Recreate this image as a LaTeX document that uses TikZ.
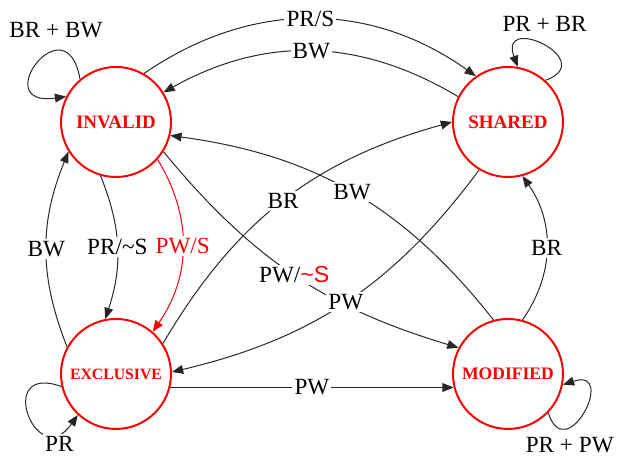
\documentclass[tikz,border=0pt]{standalone}
\usepackage{fontspec}
\setmainfont{Liberation Serif}
\setsansfont{Liberation Sans}
\usepackage{tikz}
\usetikzlibrary{arrows.meta, positioning}
\tikzset{
  stnode/.style={circle, draw=red, line width=1.4pt, minimum size=2.75cm, inner sep=0pt,
                 text=red, font=\bfseries\fontsize{13.5}{14}\selectfont},
  pipe/.style={-{Triangle[length=2.8mm, width=2.2mm]}, line width=0.7pt, draw=black!85},
  trlbl/.style={fill=white, inner sep=1.5pt, font=\fontsize{16.5}{18}\selectfont},
}

\begin{document}
\begin{tikzpicture}[node distance=7cm]
    \useasboundingbox (0,0) rectangle (15.525,-11.5);

    \node[stnode] (inv) at (2.9,-3.05) {INVALID};
    \node[stnode, right=of inv] (shd) {SHARED};
    \node[stnode, below=3.5cm of inv, font=\bfseries\fontsize{11.2}{12}\selectfont] (exc) {EXCLUSIVE};
    \node[stnode, right=of exc, font=\bfseries\fontsize{12.5}{13}\selectfont] (mod) {MODIFIED};

    % self loops
    \draw[pipe] (inv.130) .. controls +(100:2) and +(188:2) .. node[trlbl, above=7pt, pos=0.3] {BR + BW} (inv.153);
    \draw[pipe] (shd.48) .. controls +(20:1.45) and +(110:1.45) .. node[trlbl, above=8pt, pos=0.5] {PR + BR} (shd.80);
    \draw[pipe] (exc.193) .. controls +(160:1.8) and +(235:1.8) .. node[trlbl, below=1pt, xshift=4pt, pos=0.8] {PR} (exc.227);
    \draw[pipe] (mod.316) .. controls +(-72:1.45) and +(18:1.45) .. node[trlbl, below=5pt, pos=0.3] {PR + PW} (mod.349);

    % transitions
    \draw[pipe] (inv.60) to[bend left=35] node[trlbl] {PR/S} (shd.125);
    \draw[pipe] (shd.153) to[bend right=30] node[trlbl] {BW} (inv.32);
    \draw[pipe] (inv.254) to[bend left=20] node[trlbl] {PR/\textasciitilde S} (exc.101);
    \draw[pipe, draw=red] (inv.318) to[bend left=33] node[trlbl, text=red] {PW/S} (exc.49);
    \draw[pipe] (exc.151) to[bend left=22] node[trlbl] {BW} (inv.212);
    \draw[pipe] (exc.346) -- node[trlbl] {PW} (mod.194);
    \draw[pipe] (mod.75) to[bend right=35] node[trlbl] {BR} (shd.285);
    \draw[pipe] (exc.33) to[bend left=22] node[trlbl] {BR} (shd.180);
    \draw[pipe] (mod.105) to[bend right=22] node[trlbl] {BW} (inv.346);
    \draw[pipe] (inv.328) to[bend right=17] node[trlbl] {PW/\textcolor{red}{\sffamily\textasciitilde S}} (mod.152);
    \draw[pipe] (shd.239) to[bend left=20] node[trlbl] {PW} (exc.2);
\end{tikzpicture}
\end{document}
